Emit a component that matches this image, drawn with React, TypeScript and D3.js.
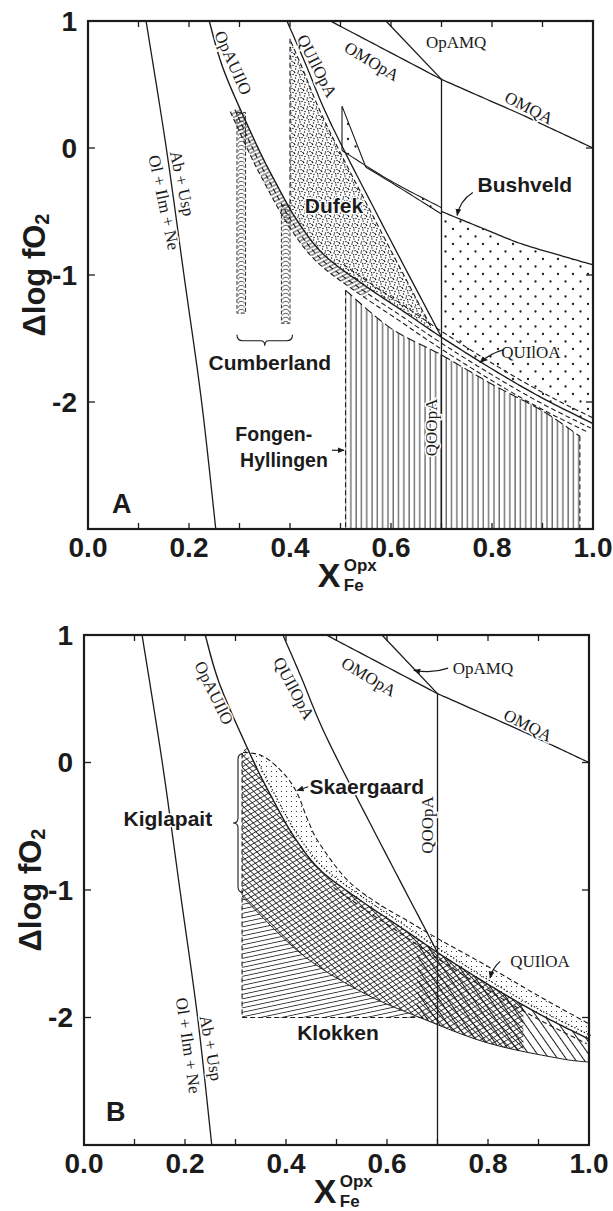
import React from "react";
import * as d3 from "d3";

type P = [number, number];
const INK = "#1b1b1b";

// ---- phase boundaries, shared by both diagrams (x = X_Fe^Opx, y = Δlog fO2) ----
const abUspLine: P[] = [[0.115, 1], [0.155, 0], [0.19, -1], [0.225, -2], [0.253, -3]];
const opAUIlOLine: P[] = [[0.24, 1], [0.27, 0.6], [0.332, 0.04], [0.37, -0.26], [0.414, -0.57], [0.467, -0.84], [0.547, -1.08], [0.626, -1.29], [0.7, -1.49]];
const quIlOALine: P[] = [[0.7, -1.49], [0.8, -1.74], [0.9, -1.97], [1.0, -2.17]];
const quIlOpALine: P[] = [[0.394, 1], [0.43, 0.67], [0.48, 0.2], [0.58, -0.58], [0.7, -1.49]];
const omOpALine: P[] = [[0.48, 1], [0.59, 0.77], [0.7, 0.54]];
const omQALine: P[] = [[0.7, 0.54], [0.78, 0.4], [0.86, 0.26], [0.93, 0.13], [1.0, 0.0]];
const opAMQLine: P[] = [[0.59, 1], [0.7, 0.54]];
const qOOpALine: P[] = [[0.7, 0.54], [0.7, -3]];
const mainCurve: P[] = opAUIlOLine.concat(quIlOALine.slice(1));

// ---- panel A intrusions ----
const dufekTop: P = [0.4, 0.86];
const bushvWedge: P[] = [[0.503, 0.33], [0.503, -0.02], [0.55, -0.15]];
const bushvBandUpper: P[] = [[0.503, -0.02], [0.6, -0.26], [0.7, -0.47]];
const bushvBandLower: P[] = [[0.55, -0.15], [0.62, -0.32], [0.7, -0.52]];
const bushvCurve: P[] = [[0.7, -0.5], [0.78, -0.63], [0.855, -0.75], [0.93, -0.84], [1.0, -0.92]];
const fongenTop: P[] = [[0.51, -1.12], [0.6, -1.42], [0.7, -1.63], [0.8, -1.86], [0.9, -2.07], [0.974, -2.27]];
const cumberlandBars = [
  { x0: 0.295, x1: 0.312, top: 0.28, bottom: -1.3 },
  { x0: 0.383, x1: 0.4, top: -0.45, bottom: -1.38 },
];

// ---- panel B intrusions ----
const skaergaardOuter: P[] = [[0.315, 0.08], [0.354, 0.05], [0.394, -0.08], [0.422, -0.24], [0.444, -0.46], [0.467, -0.64], [0.521, -0.92], [0.58, -1.1], [0.64, -1.24], [0.7, -1.38], [0.8, -1.6], [0.9, -1.83], [1.0, -2.05]];
const kiglapaitLow: P[] = [[0.313, -1.05], [0.43, -1.5], [0.55, -1.8], [0.665, -2.0], [0.8, -2.2], [0.94, -2.32], [1.0, -2.35]];
const kigBox = { x: 0.313, top: 0.07, bottom: -2.0, right: 0.68 };
const kigCrossTo = 0.87;
const klokkenSteepFrom = 0.66;

// ---- axes ----
const xTickVals = [0, 0.2, 0.4, 0.6, 0.8, 1.0];
const xTickLabels = ["0.0", "0.2", "0.4", "0.6", "0.8", "1.0"];
const xMinorTicks = [0.1, 0.2, 0.3, 0.4, 0.5, 0.6, 0.7, 0.8, 0.9];
const yTickVals = [1, 0, -1, -2];
const yTickLabels = ["1", "0", "-1", "-2"];
const yInnerTicks = [0, -1, -2];

// ---- annotations (data units) ----
const serifA = [
  { t: "OpAUIlO", x: 0.287, y: 0.67, r: 66 },
  { t: "QUIlOpA", x: 0.453, y: 0.645, r: 63 },
  { t: "OMOpA", x: 0.562, y: 0.68, r: 31 },
  { t: "OpAMQ", x: 0.729, y: 0.83, r: 0 },
  { t: "OMQA", x: 0.873, y: 0.315, r: 27.5 },
  { t: "QOOpA", x: 0.681, y: -2.2, r: -90 },
  { t: "QUIlOA", x: 0.877, y: -1.61, r: 0 },
  { t: "Ab + Usp", x: 0.186, y: -0.28, r: 78 },
  { t: "Ol + Ilm + Ne", x: 0.15, y: -0.43, r: 78 },
];
const serifB = [
  { t: "OpAUIlO", x: 0.257, y: 0.545, r: 64 },
  { t: "QUIlOpA", x: 0.415, y: 0.58, r: 62 },
  { t: "OMOpA", x: 0.564, y: 0.67, r: 31 },
  { t: "OpAMQ", x: 0.79, y: 0.74, r: 0 },
  { t: "OMQA", x: 0.879, y: 0.29, r: 27 },
  { t: "QOOpA", x: 0.681, y: -0.49, r: -90 },
  { t: "QUIlOA", x: 0.903, y: -1.56, r: 0 },
  { t: "Ab + Usp", x: 0.251, y: -2.24, r: 80 },
  { t: "Ol + Ilm + Ne", x: 0.206, y: -2.22, r: 82 },
];
const boldA = [
  { t: "Dufek", x: 0.487, y: -0.45, a: "middle" },
  { t: "Bushveld", x: 0.865, y: -0.29, a: "middle" },
  { t: "Cumberland", x: 0.36, y: -1.69, a: "middle" },
  { t: "Fongen-", x: 0.444, y: -2.255, a: "end" },
  { t: "Hyllingen", x: 0.475, y: -2.455, a: "end" },
];
const boldB = [
  { t: "Skaergaard", x: 0.56, y: -0.19, a: "middle" },
  { t: "Kiglapait", x: 0.166, y: -0.44, a: "middle" },
  { t: "Klokken", x: 0.503, y: -2.12, a: "middle" },
];
const arrowsA = [
  { s: [0.762, -0.35] as P, e: [0.731, -0.53] as P, bend: 6 },
  { s: [0.822, -1.59] as P, e: [0.776, -1.69] as P, bend: 3 },
  { s: [0.483, -2.38] as P, e: [0.507, -2.38] as P, bend: 0 },
];
const arrowsB = [
  { s: [0.721, 0.74] as P, e: [0.653, 0.725] as P, bend: -5 },
  { s: [0.444, -0.19] as P, e: [0.422, -0.22] as P, bend: 0 },
  { s: [0.824, -1.56] as P, e: [0.804, -1.69] as P, bend: 3 },
];

// ---- geometry helpers (pixel space) ----
function crSample(px: P[], n = 14): P[] {
  if (px.length < 3) return px.slice();
  const f = (a: number, b: number, c: number, d: number, t: number) =>
    0.5 * (2 * b + (-a + c) * t + (2 * a - 5 * b + 4 * c - d) * t * t + (-a + 3 * b - 3 * c + d) * t * t * t);
  const out: P[] = [];
  for (let i = 0; i < px.length - 1; i++) {
    const p0 = px[Math.max(i - 1, 0)], p1 = px[i], p2 = px[i + 1], p3 = px[Math.min(i + 2, px.length - 1)];
    for (let k = 0; k < n; k++) {
      const t = k / n;
      out.push([f(p0[0], p1[0], p2[0], p3[0], t), f(p0[1], p1[1], p2[1], p3[1], t)]);
    }
  }
  out.push(px[px.length - 1]);
  return out;
}
function lerpX(a: P, b: P, x: number): P {
  const t = (x - a[0]) / (b[0] - a[0] || 1);
  return [x, a[1] + t * (b[1] - a[1])];
}
function clipX(pts: P[], a: number, b: number): P[] {
  const out: P[] = [];
  for (let i = 0; i < pts.length; i++) {
    const p = pts[i], q = pts[i - 1];
    if (q && q[0] < a && p[0] >= a) out.push(lerpX(q, p, a));
    if (p[0] >= a && p[0] <= b) out.push(p);
    if (q && q[0] <= b && p[0] > b) { out.push(lerpX(q, p, b)); break; }
  }
  return out;
}
function yAtX(pts: P[], x: number) {
  for (let i = 1; i < pts.length; i++) if (pts[i][0] >= x) return lerpX(pts[i - 1], pts[i], x)[1];
  return pts[pts.length - 1][1];
}
function offset(pts: P[], dist: number): P[] {
  return pts.map((p, i) => {
    const a = pts[Math.max(i - 1, 0)], b = pts[Math.min(i + 1, pts.length - 1)];
    const dx = b[0] - a[0], dy = b[1] - a[1], L = Math.hypot(dx, dy) || 1;
    return [p[0] - (dy / L) * dist, p[1] + (dx / L) * dist] as P;
  });
}

const halo = { paintOrder: "stroke" as const, stroke: "#fff", strokeWidth: 3, strokeLinejoin: "round" as const };

function Hatch({ id, s, angle, w = 0.8 }: { id: string; s: number; angle: number; w?: number }) {
  return (
    <pattern id={id} width={s} height={s} patternUnits="userSpaceOnUse" patternTransform={`rotate(${angle})`}>
      <line x1={s / 2} y1={-1} x2={s / 2} y2={s + 1} stroke={INK} strokeWidth={w} />
    </pattern>
  );
}

function Defs() {
  return (
    <defs>
      <marker id="arr" viewBox="0 0 10 10" refX={9} refY={5} markerWidth={6} markerHeight={6} orient="auto">
        <path d="M0,1 L10,5 L0,9 z" fill={INK} />
      </marker>
      <pattern id="vlines" width={5.3} height={10} patternUnits="userSpaceOnUse">
        <line x1={1} y1={0} x2={1} y2={10} stroke={INK} strokeWidth={0.9} />
      </pattern>
      <pattern id="stipple" width={9} height={9} patternUnits="userSpaceOnUse">
        {[[1, 1], [5, 2.5], [3, 5], [7.5, 6], [1.5, 8], [6, 8.5], [8, 3.5], [4, 7.6], [2.6, 2.8], [6.6, 0.6]].map(([a, b], i) => (
          <circle key={i} cx={a} cy={b} r={0.75} fill={INK} />
        ))}
      </pattern>
      <pattern id="bushdots" width={15} height={15} patternUnits="userSpaceOnUse">
        <circle cx={3} cy={4} r={1.15} fill={INK} />
        <circle cx={10.5} cy={11.5} r={1.15} fill={INK} />
      </pattern>
      <pattern id="skdots" width={5} height={5} patternUnits="userSpaceOnUse">
        <circle cx={1.5} cy={1.5} r={0.6} fill={INK} />
      </pattern>
      <Hatch id="ladder" s={3.6} angle={63} />
      <Hatch id="crossA" s={4.5} angle={-45} />
      <Hatch id="crossB" s={4.5} angle={60} />
      <Hatch id="flat" s={4.4} angle={78} />
      <Hatch id="steep" s={7} angle={-35} w={1} />
    </defs>
  );
}

function Panel({ which, x0, x1, yTop, yBot }: { which: "A" | "B"; x0: number; x1: number; yTop: number; yBot: number }) {
  const sx = d3.scaleLinear().domain([0, 1]).range([x0, x1]);
  const sy = d3.scaleLinear().domain([-3, 1]).range([yBot, yTop]);
  const toPx = (pts: P[]): P[] => pts.map(([a, b]) => [sx(a), sy(b)] as P);
  const C = (pts: P[]) => crSample(toPx(pts));
  const line = d3.line<P>();
  const d = (pts: P[]) => line(pts) ?? "";
  const poly = (pts: P[]) => (line(pts) ?? "") + "Z";
  const main = C(mainCurve);
  const boundaries = [abUspLine, quIlOpALine, omOpALine, omQALine, opAMQLine, qOOpALine].map(C);
  const thin = { fill: "none", stroke: INK, strokeWidth: 1.1 };
  const dash = { ...thin, strokeDasharray: "5 3" };

  let extra: React.ReactNode = null;
  if (which === "A") {
    // Dufek wedge between QUIlOpA (inset) and the main curve
    const qShift = C(quIlOpALine).map(([a, b]) => [a - 5, b] as P);
    const dTop: P = [sx(dufekTop[0]), sy(dufekTop[1])];
    const dRight = qShift.filter((p) => p[1] >= dTop[1] && p[0] >= dTop[0] && p[1] < yAtX(main, p[0]) - 2);
    const dEnd = dRight[dRight.length - 1];
    const dBottom = clipX(main, dTop[0], dEnd[0]).reverse();
    // Bushveld
    const wedge = toPx(bushvWedge);
    const bu = C(bushvBandUpper), bl = C(bushvBandLower), bc = C(bushvCurve);
    const mRight = clipX(main, sx(0.7), sx(1.0));
    const bushPoly = [wedge[0], ...bu, ...bc, ...mRight.slice().reverse(), ...bl.slice().reverse()];
    // Fongen-Hyllingen
    const ft = C(fongenTop);
    const fLeft = ft[0][0], fRight = ft[ft.length - 1][0];
    const fongenPoly = [[fLeft, sy(-3)] as P, ...ft, [fRight, sy(-3)] as P];
    // Cumberland band along the main curve
    const mb = clipX(main, sx(0.3), sx(1.0));
    const ladderBand = clipX(main, sx(0.3), sx(0.56));
    extra = (
      <g>
        <path d={poly(fongenPoly)} fill="url(#vlines)" />
        <path d={poly([dTop, ...dRight, ...dBottom])} fill="url(#stipple)" />
        <path d={poly(bushPoly)} fill="url(#bushdots)" />
        <path d={poly([...ladderBand, ...offset(ladderBand, 10).reverse()])} fill="url(#ladder)" />
        {cumberlandBars.map((b, i) => (
          <g key={i}>
            <pattern id={`loops${i}`} x={sx(b.x0)} y={0} width={sx(b.x1) - sx(b.x0)} height={4} patternUnits="userSpaceOnUse">
              <path d={`M1.2,3.6 C1.2,0.6 ${sx(b.x1) - sx(b.x0) - 1.2},0.6 ${sx(b.x1) - sx(b.x0) - 1.2},3.6`} fill="none" stroke={INK} strokeWidth={0.8} />
            </pattern>
            <rect x={sx(b.x0)} y={sy(b.top)} width={sx(b.x1) - sx(b.x0)} height={sy(b.bottom) - sy(b.top)} fill={`url(#loops${i})`} stroke={INK} strokeWidth={0.9} strokeDasharray="4 2" />
          </g>
        ))}
        <path d={d(offset(mb, 5))} {...dash} />
        <path d={d(offset(mb, 10))} {...dash} />
        <path d={d(offset(clipX(main, sx(0.5), sx(1.0)), -5))} {...dash} />
        <path d={d(dRight)} {...dash} />
        <path d={d([dTop, [dTop[0], yAtX(main, dTop[0])]])} {...dash} />
        <path d={d([ft[0], [fLeft, sy(-3)]])} {...dash} />
        <path d={d([ft[ft.length - 1], [fRight, sy(-3)]])} {...dash} />
        <path d={d(ft)} {...thin} strokeDasharray="9 4" />
        <path d={d([wedge[1], wedge[0], wedge[2]])} {...thin} />
        <path d={d(bu)} {...thin} />
        <path d={d(bl)} {...thin} />
        <path d={d(bc)} {...thin} strokeWidth={1.3} />
        <path
          d={`M${sx(0.295)},${sy(-1.47)} q0,6 6,6 L${(sx(0.295) + sx(0.405)) / 2 - 4},${sy(-1.47) + 6} q4,0 4,5 q0,-5 4,-5 L${sx(0.405) - 6},${sy(-1.47) + 6} q6,0 6,-6`}
          {...thin}
        />
      </g>
    );
  } else {
    const so = C(skaergaardOuter);
    const kl = C(kiglapaitLow);
    const bx = sx(kigBox.x);
    const skPoly = [...so, ...clipX(main, sx(0.335), sx(1.0)).reverse()];
    const kigPoly = [[bx, sy(kigBox.top)] as P, ...clipX(main, sx(0.322), sx(kigCrossTo)), ...clipX(kl, bx, sx(kigCrossTo)).reverse()];
    const klFlat = [...clipX(kl, bx, sx(0.665)), [sx(0.665), sy(kigBox.bottom)] as P, [bx, sy(kigBox.bottom)] as P];
    const klSteep = [...clipX(main, sx(klokkenSteepFrom), sx(1.0)), ...clipX(kl, sx(klokkenSteepFrom), sx(1.0)).reverse()];
    const by0 = sy(kigBox.top), by1 = sy(-1.02), bm = (by0 + by1) / 2, bX = sx(0.303);
    extra = (
      <g>
        <path d={poly(klFlat)} fill="url(#flat)" />
        <path d={poly(klSteep)} fill="url(#steep)" />
        <path d={poly(kigPoly)} fill="url(#crossA)" />
        <path d={poly(kigPoly)} fill="url(#crossB)" />
        <path d={poly(skPoly)} fill="#fff" />
        <path d={poly(skPoly)} fill="url(#skdots)" />
        <path d={d(kl)} {...thin} strokeWidth={1} />
        <path d={d(so)} {...dash} />
        <path d={d(offset(clipX(main, sx(0.34), sx(1.0)), -4))} {...thin} strokeDasharray="1.5 2" />
        <path d={d(offset(clipX(main, sx(0.5), sx(1.0)), 5))} {...dash} />
        <path d={d([[bx, sy(kigBox.top)], [bx, sy(kigBox.bottom)], [sx(kigBox.right), sy(kigBox.bottom)]])} {...dash} />
        <path
          d={`M${bX + 6},${by0} q-5,0 -5,6 L${bX + 1},${bm - 5} q0,5 -5,5 q5,0 5,5 L${bX + 1},${by1 - 6} q0,6 5,6`}
          {...thin}
        />
      </g>
    );
  }

  const serif = which === "A" ? serifA : serifB;
  const bold = which === "A" ? boldA : boldB;
  const arrows = which === "A" ? arrowsA : arrowsB;

  return (
    <g>
      {extra}
      <path d={d(main)} {...thin} strokeWidth={1.4} />
      {boundaries.map((b, i) => (
        <path key={i} d={d(b)} {...thin} strokeWidth={1.3} />
      ))}
      {/* frame and inward ticks */}
      <rect x={x0} y={yTop} width={x1 - x0} height={yBot - yTop} fill="none" stroke={INK} strokeWidth={2.2} />
      {xMinorTicks.map((v) => (
        <g key={v}>
          <line x1={sx(v)} x2={sx(v)} y1={yTop} y2={yTop + 6} stroke={INK} strokeWidth={1.3} />
          <line x1={sx(v)} x2={sx(v)} y1={yBot} y2={yBot - 6} stroke={INK} strokeWidth={1.3} />
        </g>
      ))}
      {yInnerTicks.map((v) => (
        <g key={v}>
          <line x1={x0} x2={x0 + 7} y1={sy(v)} y2={sy(v)} stroke={INK} strokeWidth={1.3} />
          <line x1={x1} x2={x1 - 7} y1={sy(v)} y2={sy(v)} stroke={INK} strokeWidth={1.3} />
        </g>
      ))}
      <g fontFamily="'Liberation Sans', Arial, sans-serif" fontWeight="bold" fill={INK}>
        {xTickVals.map((v, i) => (
          <text key={v} x={sx(v)} y={yBot + 28} fontSize={28} textAnchor="middle">{xTickLabels[i]}</text>
        ))}
        {yTickVals.map((v, i) => (
          <text key={v} x={x0 - 11} y={sy(v)} fontSize={28} textAnchor="end" dominantBaseline="central">{yTickLabels[i]}</text>
        ))}
        <text transform={`translate(${x0 - 54},${sy(-1)}) rotate(-90)`} fontSize={31} textAnchor="middle" dominantBaseline="central">
          Δlog fO<tspan dy={8} fontSize={20}>2</tspan>
        </text>
        <text x={sx(0.455)} y={yBot + 58} fontSize={34}>X</text>
        <text x={sx(0.455) + 26} y={yBot + 42} fontSize={17}>Opx</text>
        <text x={sx(0.455) + 26} y={yBot + 62} fontSize={17}>Fe</text>
        <text x={sx(which === "A" ? 0.067 : 0.063)} y={sy(which === "A" ? -2.8 : -2.74)} fontSize={27} textAnchor="middle" dominantBaseline="central">{which}</text>
        {bold.map((b) => (
          <text key={b.t} x={sx(b.x)} y={sy(b.y)} fontSize={b.t === "Fongen-" || b.t === "Hyllingen" ? 19.5 : 21} textAnchor={b.a} dominantBaseline="central" style={halo}>{b.t}</text>
        ))}
      </g>
      <g fontFamily="'Liberation Serif', 'Times New Roman', serif" fill={INK} fontSize={17}>
        {serif.map((s) => (
          <text key={s.t} transform={`translate(${sx(s.x)},${sy(s.y)}) rotate(${s.r})`} textAnchor="middle" dominantBaseline="central" style={halo}>{s.t}</text>
        ))}
      </g>
      {arrows.map((a, i) => {
        const [sxp, syp] = [sx(a.s[0]), sy(a.s[1])];
        const [exp, eyp] = [sx(a.e[0]), sy(a.e[1])];
        const mx = (sxp + exp) / 2, my = (syp + eyp) / 2;
        const L = Math.hypot(exp - sxp, eyp - syp) || 1;
        const cx = mx - ((eyp - syp) / L) * a.bend, cy = my + ((exp - sxp) / L) * a.bend;
        return <path key={i} d={`M${sxp},${syp} Q${cx},${cy} ${exp},${eyp}`} fill="none" stroke={INK} strokeWidth={1.2} markerEnd="url(#arr)" />;
      })}
    </g>
  );
}

export default function App() {
  return (
    <svg width={613} height={1211} viewBox="0 0 613 1211" style={{ position: "absolute", left: 0, top: 0, background: "#fff" }}>
      <Defs />
      <rect width={613} height={1211} fill="#fff" />
      <Panel which="A" x0={88} x1={593} yTop={21} yBot={529} />
      <Panel which="B" x0={84} x1={589} yTop={635} yBot={1145} />
    </svg>
  );
}
